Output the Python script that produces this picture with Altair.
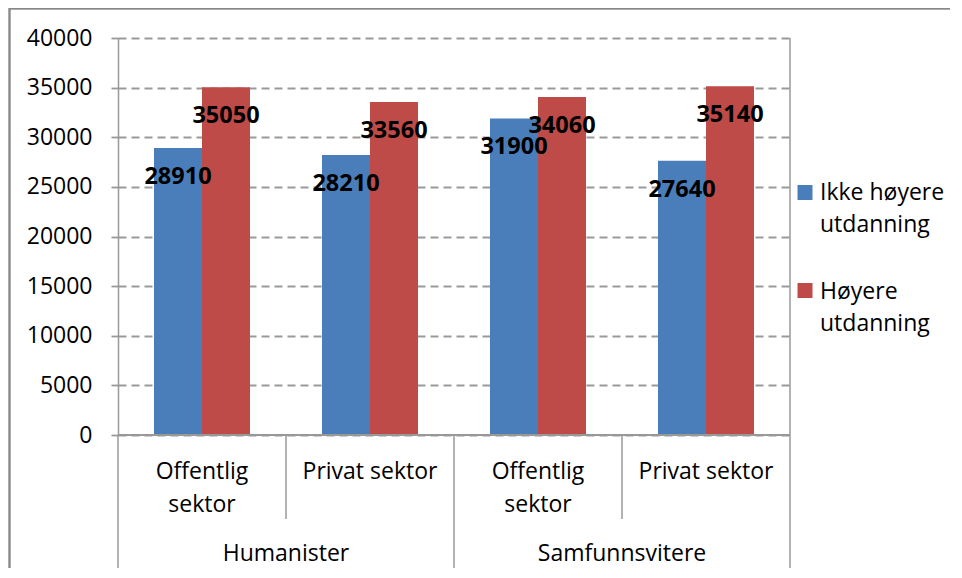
import altair as alt
import pandas as pd

# ---- data ----
groups = ["Humanister", "Samfunnsvitere"]
sectors = ["Offentlig\nsektor", "Privat sektor"]
series = ["Ikke høyere utdanning", "Høyere utdanning"]
legend_labels = ["Ikke høyere\nutdanning", "Høyere\nutdanning"]
ikke_hoyere = [28910, 28210, 31900, 27640]
hoyere = [35050, 33560, 34060, 35140]
colors = ["#4A7EBB", "#BE4B48"]
y_ticks = [0, 5000, 10000, 15000, 20000, 25000, 30000, 35000, 40000]

FONT = "Open Sans"
LINE = "#999999"
W, H = 672, 397
BOTTOM = 133

pos_order = [f"{g} | {s.replace(chr(10), ' ')}" for g in groups for s in sectors]
sub_label = [s for g in groups for s in sectors]
group_of = [g for g in groups for s in sectors]

rows = []
for i, p in enumerate(pos_order):
    rows.append({"pos": p, "series": series[0], "value": ikke_hoyere[i]})
    rows.append({"pos": p, "series": series[1], "value": hoyere[i]})
bars_df = pd.DataFrame(rows)

cats_df = pd.DataFrame({"pos": pos_order, "label": sub_label, "group": group_of})
first_of_group = cats_df.groupby("group", sort=False).first().reset_index()
last_of_group = cats_df.groupby("group", sort=False).last().reset_index()
legend_df = pd.DataFrame({"series": series, "label": legend_labels})

xscale = alt.Scale(domain=pos_order, paddingInner=0, paddingOuter=0)
x_enc = alt.X("pos:N", scale=xscale, axis=None, sort=None)
xoff = alt.XOffset("series:N", scale=alt.Scale(domain=series, paddingOuter=0.75, paddingInner=0), sort=None)
yscale = alt.Scale(domain=[0, 40000], nice=False, zero=True)
color = alt.Color("series:N", scale=alt.Scale(domain=series, range=colors), legend=None)

base = alt.Chart(bars_df)

bars = base.mark_bar().encode(
    x=x_enc,
    xOffset=xoff,
    y=alt.Y(
        "value:Q",
        scale=yscale,
        title=None,
        axis=alt.Axis(
            values=y_ticks,
            format="d",
            labelFont=FONT,
            labelFontSize=23,
            labelColor="#000000",
            labelPadding=19,
            domainColor=LINE,
            domainWidth=1.5,
            tickColor=LINE,
            tickSize=7,
            tickWidth=1.8,
            gridColor="#9a9a9a",
            gridDash=[8, 5],
            gridWidth=1.8,
        ),
    ),
    color=color,
)

labels = base.mark_text(
    dy=29, baseline="middle", font=FONT, fontSize=23.5, fontWeight="bold", color="#000000"
).encode(
    x=x_enc,
    xOffset=xoff,
    y=alt.Y("value:Q", scale=yscale, axis=None),
    text=alt.Text("value:Q", format="d"),
)

# bottom axis line
x_axis_line = alt.Chart(cats_df).mark_rule(color=LINE, strokeWidth=1.5).encode(
    x=alt.value(0), x2=alt.value(W), y=alt.value(H)
)

# category dividers
sub_div = alt.Chart(last_of_group).mark_rule(color=LINE, strokeWidth=1.5).encode(
    x=alt.X("pos:N", scale=xscale, axis=None, bandPosition=0, sort=None),
    y=alt.value(H),
    y2=alt.value(H + 84),
)
grp_div = alt.Chart(first_of_group).mark_rule(color=LINE, strokeWidth=1.5).encode(
    x=alt.X("pos:N", scale=xscale, axis=None, bandPosition=0, sort=None),
    y=alt.value(H),
    y2=alt.value(H + BOTTOM),
)
right_div = alt.Chart(last_of_group.tail(1)).mark_rule(color=LINE, strokeWidth=1.5).encode(
    x=alt.X("pos:N", scale=xscale, axis=None, bandPosition=1, sort=None),
    y=alt.value(0),
    y2=alt.value(H + BOTTOM),
)

sub_text = alt.Chart(cats_df).mark_text(
    font=FONT, fontSize=23, color="#000000", baseline="alphabetic", lineBreak="\n", lineHeight=33
).encode(
    x=alt.X("pos:N", scale=xscale, axis=None, sort=None),
    y=alt.value(440.5),
    text="label:N",
)
grp_text = alt.Chart(first_of_group).mark_text(
    font=FONT, fontSize=23, color="#000000", baseline="alphabetic"
).encode(
    x=alt.X("pos:N", scale=xscale, axis=None, bandPosition=1, sort=None),
    y=alt.value(523),
    text="group:N",
)

leg_sym = alt.Chart(legend_df).mark_square(size=225, opacity=1).encode(
    x=alt.value(687),
    y=alt.Y("series:N", scale=alt.Scale(type="point", domain=series, range=[154.5, 252.5], padding=0), axis=None, sort=None),
    color=color,
)
leg_text = alt.Chart(legend_df).mark_text(
    font=FONT, fontSize=23, color="#000000", align="left", baseline="alphabetic", lineBreak="\n", lineHeight=32
).encode(
    x=alt.value(702),
    y=alt.Y("series:N", scale=alt.Scale(type="point", domain=series, range=[162, 261], padding=0), axis=None, sort=None),
    text="label:N",
)

# outer chart border (top and left visible)
border_top = alt.Chart(cats_df).mark_rule(color="#888888", strokeWidth=1.5).encode(
    x=alt.value(-109), x2=alt.value(W + 200), y=alt.value(-29.5)
)
border_left = alt.Chart(cats_df).mark_rule(color="#888888", strokeWidth=1.5).encode(
    x=alt.value(-108.5), y=alt.value(-30), y2=alt.value(H + BOTTOM)
)

chart = (
    alt.layer(
        bars, labels, x_axis_line, sub_div, grp_div, right_div,
        sub_text, grp_text, leg_sym, leg_text, border_top, border_left,
    )
    .resolve_scale(y="independent")
    .properties(
        width=W,
        height=H,
        autosize=alt.AutoSizeParams(type="none"),
        padding={"left": 110, "top": 30, "right": 160, "bottom": BOTTOM},
        background="white",
    )
    .configure_view(stroke=None)
)

chart.save("out.html", embed_options={"renderer": "svg", "actions": False})
